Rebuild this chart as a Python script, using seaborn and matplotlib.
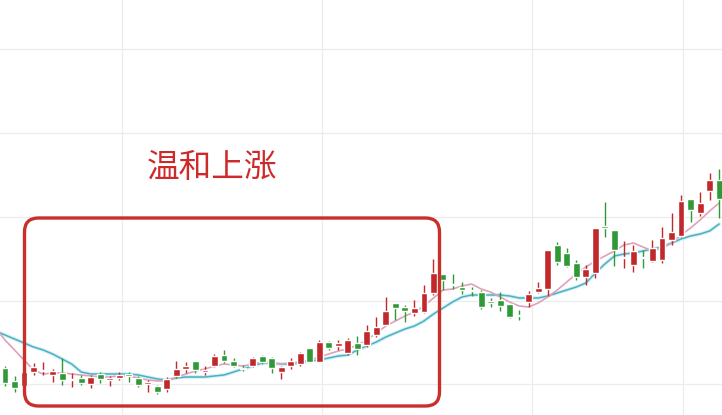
import numpy as np
import pandas as pd
import matplotlib.pyplot as plt
from matplotlib.patches import FancyBboxPatch
import seaborn as sns

# daily candles (price units)
opens = [4.7, 3.4, 2.9, 4.3, 4.4, 4.0, 4.2, 3.5, 3.7, 3.1,
         4.1, 3.5, 3.7, 4.1, 3.7, 3.1, 2.9, 2.6, 3.9, 4.6,
         5.4, 4.3, 4.9, 6.0, 5.4, 4.7, 4.9, 5.9, 5.7, 4.3,
         4.9, 5.1, 6.7, 5.3, 7.3, 6.9, 6.2, 7.2, 7.0, 8.0,
         9.0, 11.2, 10.8, 10.2, 10.3, 12.2, 14.1, 13.1, 12.8, 12.5,
         12.3, 11.4, 11.5, 11.1, 10.0, 11.3, 12.3, 12.6, 17.0, 16.2,
         15.2, 13.8, 14.2, 18.8, 18.5, 15.7, 15.0, 15.8, 15.4, 15.5,
         17.5, 17.9, 21.6, 20.2, 22.4, 23.5]
highs = [4.9, 3.9, 4.5, 5.2, 5.3, 4.6, 5.7, 4.2, 4.0, 4.0,
         4.3, 3.9, 4.3, 4.3, 3.9, 3.5, 3.0, 3.8, 5.4, 5.3,
         5.4, 4.9, 6.1, 6.5, 5.7, 5.0, 5.8, 6.0, 5.8, 4.9,
         5.7, 6.3, 6.7, 7.5, 7.4, 7.5, 7.7, 7.9, 9.0, 9.8,
         11.8, 11.2, 11.0, 11.5, 13.0, 15.6, 14.1, 14.1, 13.3, 12.8,
         12.5, 11.7, 12.3, 11.1, 10.5, 12.4, 13.3, 16.5, 17.3, 16.7,
         15.5, 15.0, 18.7, 21.3, 18.5, 17.4, 17.0, 16.5, 17.5, 18.8,
         20.2, 22.0, 21.6, 22.3, 24.2, 24.6]
lows = [2.9, 2.3, 2.7, 4.0, 4.0, 3.3, 3.0, 2.8, 3.0, 2.7,
        3.2, 2.9, 3.5, 3.3, 2.8, 2.3, 2.1, 2.3, 3.7, 4.2,
        4.2, 4.0, 4.8, 5.2, 4.8, 4.4, 4.8, 5.1, 4.2, 3.6,
        4.6, 4.9, 5.3, 5.3, 6.5, 6.5, 6.0, 6.0, 6.8, 7.8,
        9.0, 9.5, 9.3, 9.9, 10.2, 12.0, 12.5, 12.6, 12.1, 11.9,
        10.6, 10.8, 10.4, 9.7, 9.5, 10.8, 12.2, 11.9, 15.0, 14.8,
        13.5, 13.0, 13.7, 17.8, 14.9, 14.7, 14.3, 14.7, 15.3, 15.2,
        17.0, 17.8, 19.3, 19.9, 21.5, 19.7]
closes = [3.2, 2.7, 4.3, 4.8, 4.5, 4.4, 3.5, 3.6, 3.2, 3.8,
          3.6, 3.7, 4.0, 3.9, 3.0, 3.3, 2.3, 3.6, 4.6, 4.9,
          4.5, 4.5, 5.9, 5.4, 4.9, 4.6, 5.7, 5.3, 4.7, 4.8,
          5.4, 6.2, 5.3, 7.3, 6.7, 7.2, 7.5, 6.6, 8.4, 8.8,
          10.4, 10.7, 10.4, 10.7, 12.2, 14.2, 13.5, 13.0, 12.5, 12.4,
          10.8, 11.2, 10.9, 9.8, 9.9, 12.1, 12.7, 16.5, 15.3, 14.9,
          13.8, 14.6, 18.7, 18.7, 16.5, 15.8, 16.4, 15.7, 16.7, 17.7,
          18.3, 21.4, 20.5, 21.2, 23.5, 21.6]

# moving averages, first value is the day before the first visible candle
ma_short = [8.7, 7.5, 6.5, 5.5, 4.5, 4.1, 4.2, 4.2, 4.1, 4.0, 3.9,
            3.8, 3.8, 3.9, 3.9, 3.7, 3.5, 3.4, 3.4, 3.8, 4.1,
            4.4, 4.6, 4.9, 5.1, 5.0, 4.9, 5.1, 5.3, 5.2, 5.1,
            5.2, 5.3, 5.5, 5.8, 6.1, 6.4, 6.6, 7.0, 7.5, 8.2,
            8.9, 9.4, 9.9, 10.3, 10.9, 11.7, 12.5, 12.6, 12.9, 13.1,
            12.6, 12.3, 11.8, 11.3, 10.9, 10.8, 11.2, 11.8, 12.5, 13.3,
            14.1, 14.8, 15.4, 15.9, 16.4, 17.0, 17.2, 16.8, 16.4, 16.7,
            17.2, 18.0, 18.7, 19.5, 20.4, 21.2]
ma_long = [8.4, 8.0, 7.6, 7.2, 6.8, 6.5, 6.1, 5.6, 5.1, 4.3, 4.1,
           4.1, 4.1, 4.1, 4.1, 4.0, 3.8, 3.6, 3.5, 3.7, 3.8,
           3.8, 3.8, 3.9, 4.0, 4.3, 4.6, 4.9, 5.2, 5.2, 5.1,
           5.1, 5.2, 5.4, 5.5, 5.7, 5.9, 6.0, 6.5, 6.9, 7.3,
           7.8, 8.2, 8.6, 8.9, 9.4, 10.1, 10.7, 11.3, 11.8, 12.0,
           12.0, 12.0, 12.0, 11.9, 11.7, 11.7, 11.7, 11.9, 12.2, 12.5,
           12.8, 13.2, 14.2, 15.1, 15.9, 16.1, 16.2, 16.4, 16.6, 16.8,
           17.2, 17.6, 17.9, 18.1, 18.4, 19.1]

label = "温和上涨"

sns.set_style("whitegrid")
plt.rcParams['font.family'] = ['Noto Sans CJK SC', 'DejaVu Sans']

df = pd.DataFrame({"open": opens, "high": highs, "low": lows, "close": closes})
df["day"] = np.arange(len(df))
ma = pd.DataFrame({"day": np.arange(-1, len(df)), "short": ma_short, "long": ma_long})

red = "#c0282b"
green = "#2f9a35"

fig = plt.figure(figsize=(7.22, 4.15), dpi=100)
ax = fig.add_axes([0, 0, 1, 1])

# moving averages (blue one has a soft glow)
sns.lineplot(data=ma, x="day", y="long", ax=ax, color="#cdf1f7", lw=2.6, zorder=2)
sns.lineplot(data=ma, x="day", y="long", ax=ax, color="#52aec2", lw=1.1, zorder=2)
sns.lineplot(data=ma, x="day", y="short", ax=ax, color="#dea2b8", lw=1.2, zorder=2)

# candles
up = df["close"] > df["open"]
colors = np.where(up, red, green)
body_low = df[["open", "close"]].min(axis=1)
body_h = (df["close"] - df["open"]).abs().clip(lower=0.15)
ax.vlines(df["day"], df["low"], df["high"], colors=colors, lw=1.0, zorder=3)
ax.bar(df["day"], body_h, bottom=body_low, width=0.72, color=colors, zorder=4)

ax.set_xlim(-0.525, 75.3)
ax.set_ylim(0, 41.5)
ax.set_xticks([12.3, 33.3, 55.35, 71.2])
ax.set_yticks([3.1, 11.45, 19.8, 28.2, 36.6])
ax.set_xticklabels([])
ax.set_yticklabels([])
ax.set_xlabel("")
ax.set_ylabel("")
ax.tick_params(length=0)
ax.grid(color="#ececec", lw=0.9)
for side in ["left", "right", "top", "bottom"]:
    ax.spines[side].set_visible(False)

# annotation box and text
box = FancyBboxPatch((0.245, 0.09), 4.15, 1.88,
                     boxstyle="round,pad=0,rounding_size=0.14",
                     transform=fig.dpi_scale_trans, fill=False,
                     ec="#c9302c", lw=2.4, zorder=5)
fig.patches.append(box)
fig.text(0.2936, 0.595, label, ha="center", va="center",
         fontsize=23.5, color="#cf2a2a")

fig.savefig("out.png", dpi=100)
